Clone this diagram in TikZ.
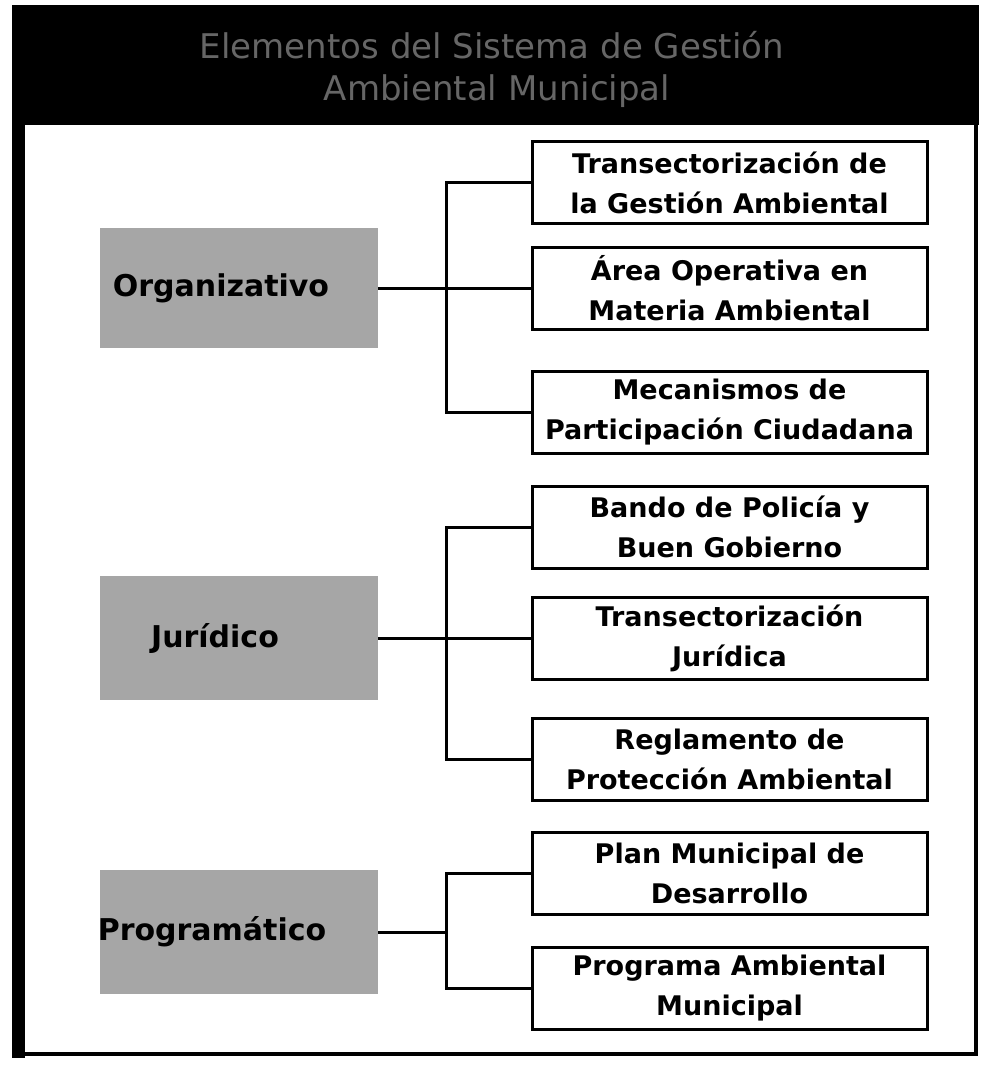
\documentclass[tikz,border=0pt]{standalone}
\usepackage{fontspec}
\setmainfont{DejaVu Sans}
\begin{document}
\begin{tikzpicture}[x=1pt,y=-1pt,
  rbox/.style={draw=black, line width=3pt, fill=white, minimum width=395pt, minimum height=82pt, inner sep=0pt, align=center, font=\fontsize{27}{40}\selectfont\bfseries},
  gbox/.style={fill=black!35, minimum width=278pt, minimum height=120pt, inner sep=0pt},
  lbl/.style={font=\fontsize{30}{36}\selectfont\bfseries, text=black},
  ttl/.style={text=black!60, font=\fontsize{34}{40}\selectfont, anchor=base, inner sep=0pt},
  conn/.style={line width=3pt, black}]
\useasboundingbox (0,0) rectangle (983,1069);
% frame and header
\fill[black] (12,5) rectangle (979,125);
\fill[black] (12,5) rectangle (25,1058);
\draw[line width=4.5pt] (16,7) rectangle (976,1054);
\node[ttl] (t1) at (492,58) {Elementos del Sistema de Gestión};
\node[ttl] (t2) at (497,100) {Ambiental Municipal};
% group 1
\node[gbox, label={[lbl, xshift=-18pt]center:Organizativo}] (org) at (239,288) {};
\node[rbox] (a1) at (729.5,182.5) {Transectorización de\\la Gestión Ambiental};
\node[rbox] (a2) at (729.5,288) {Área Operativa en\\Materia Ambiental};
\node[rbox] (a3) at (729.5,412) {Mecanismos de\\Participación Ciudadana};
\draw[conn] (a1.west) -- ++(-84,0) |- (a3.west);
\draw[conn] (org.east) -- (a2.west);
% group 2
\node[gbox, minimum height=124pt, label={[lbl, xshift=-24pt]center:Jurídico}] (jur) at (239,638) {};
\node[rbox] (b1) at (729.5,527) {Bando de Policía y\\Buen Gobierno};
\node[rbox] (b2) at (729.5,638) {Transectorización\\Jurídica};
\node[rbox] (b3) at (729.5,759) {Reglamento de\\Protección Ambiental};
\draw[conn] (b1.west) -- ++(-84,0) |- (b3.west);
\draw[conn] (jur.east) -- (b2.west);
% group 3
\node[gbox, minimum height=124pt, label={[lbl, xshift=-27pt]center:Programático}] (prog) at (239,932) {};
\node[rbox] (c1) at (729.5,873) {Plan Municipal de\\Desarrollo};
\node[rbox] (c2) at (729.5,988) {Programa Ambiental\\Municipal};
\coordinate (cm) at (448,932);
\draw[conn] (c1.west) -- ++(-84,0) |- (c2.west);
\draw[conn] (prog.east) -- (cm);
\end{tikzpicture}
\end{document}
